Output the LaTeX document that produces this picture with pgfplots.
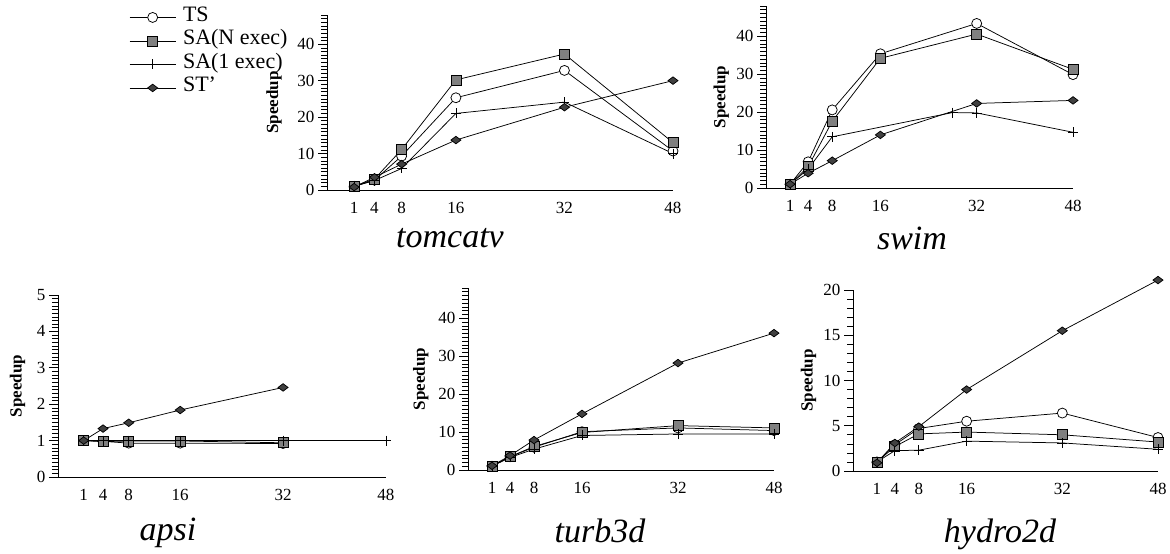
\documentclass[border=0pt]{standalone}
\usepackage{pgfplots}
\pgfplotsset{compat=1.18}
\usepackage{fontspec}
\setmainfont{Liberation Serif}
\begin{document}
\begin{tikzpicture}
\path[use as bounding box] (0pt,0pt) rectangle (1170pt,554pt);
\pgfplotsset{
  speed/.style={
    scale only axis, axis lines*=left, clip=false,
    xmin=-3, xmax=48, ymin=0,
    xtick={1,4,8,16,32,48}, xtick style={draw=none},
    tick align=outside, major tick length=9pt, minor tick length=6pt,
    every tick/.style={black, line width=0.6pt},
    axis line style={line width=0.8pt},
    tick label style={font=\fontsize{17}{17}\selectfont},
    /pgf/number format/assume math mode=true,
    ylabel={Speedup},
    ylabel style={font=\bfseries\fontsize{17}{17}\selectfont, rotate=0, anchor=center},
  },
  myleg/.style={legend image code/.code={\draw[mark repeat=2,mark phase=2,##1] plot coordinates {(0pt,0pt) (23pt,0pt) (46pt,0pt)};}},
  big/.style={ymax=48, ytick={0,10,...,40}, minor ytick={0,1,...,48}},
  ts/.style={myleg, black, line width=0.75pt, mark=*, mark size=5pt, mark options={solid, fill=white}},
  san/.style={myleg, black, line width=0.75pt, mark=square*, mark size=5pt, mark options={solid, fill=gray}},
  sa1/.style={myleg, black, line width=0.75pt, mark=+, mark size=5pt, mark options={solid}},
  st/.style={myleg, black, line width=0.75pt, mark=diamond*, mark size=5pt, mark options={solid, fill=darkgray, rotate=90}},
}

% tomcatv
\begin{axis}[speed, big, at={(327pt,364pt)}, anchor=south west, width=346pt, height=175pt,
  ylabel style={at={(axis description cs:-0.153,0.5)}},
  legend style={at={(axis description cs:-0.572,1.05)}, anchor=north west, draw=none, fill=none,
    font=\fontsize{22}{24}\selectfont, row sep=1.5pt, inner sep=0pt,
    nodes={inner sep=0pt, text height=15pt, text depth=7pt},
    /tikz/every odd column/.append style={column sep=7pt}},
  legend cell align=left]
\addplot[ts] coordinates {(1,1)(4,2.7)(8,9.3)(16,25.3)(32,32.8)(48,10.7)};
\addplot[san] coordinates {(1,1)(4,3)(8,11.1)(16,30.2)(32,37.3)(48,13)};
\addplot[sa1] coordinates {(1,1)(4,2.6)(8,5.9)(16,21)(32,24.1)(48,10)};
\addplot[st] coordinates {(1,0.8)(4,3.5)(8,7.1)(16,13.7)(32,22.7)(48,30)};
\legend{TS, SA(N exec), SA(1 exec), ST'}
\end{axis}

% swim
\begin{axis}[speed, big, at={(766pt,366pt)}, anchor=south west, width=307pt, height=182pt,
  ylabel style={at={(axis description cs:-0.146,0.5)}}]
\addplot[ts] coordinates {(1,1)(4,6.9)(8,20.6)(16,35.4)(32,43.4)(48,29.9)};
\addplot[san] coordinates {(1,1)(4,5.6)(8,17.6)(16,34.2)(32,40.6)(48,31.3)};
\addplot[sa1] coordinates {(1,1)(4,5)(8,13.5)(28,19.9)(32,19.8)(48,14.7)};
\addplot[st] coordinates {(1,1)(4,3.9)(8,7.2)(16,14)(32,22.3)(48,23.1)};
\end{axis}

% apsi
\begin{axis}[speed, at={(58pt,77pt)}, anchor=south west, width=328pt, height=182pt,
  ymax=5, ytick={0,1,...,5}, minor ytick={0,0.1,...,5.01},
  ylabel style={at={(axis description cs:-0.123,0.5)}}]
\addplot[ts] coordinates {(1,1)(4,0.98)(8,0.93)(16,0.93)(32,0.92)};
\addplot[san] coordinates {(1,1)(4,0.97)(8,0.99)(16,0.99)(32,0.94)};
\addplot[sa1] coordinates {(1,1)(4,1)(8,1)(16,1)(32,1)(48,1)};
\addplot[st] coordinates {(1,1)(4,1.33)(8,1.49)(16,1.84)(32,2.46)};
\end{axis}

% turb3d
\begin{axis}[speed, big, at={(468pt,84pt)}, anchor=south west, width=306pt, height=182pt,
  ylabel style={at={(axis description cs:-0.154,0.5)}}]
\addplot[ts] coordinates {(1,1)(4,3.5)(8,6)(16,10.1)(32,11.1)(48,10.4)};
\addplot[san] coordinates {(1,1)(4,3.5)(8,6.2)(16,9.9)(32,11.7)(48,11.1)};
\addplot[sa1] coordinates {(1,1)(4,3.3)(8,5.5)(16,9.1)(32,9.5)(48,9.5)};
\addplot[st] coordinates {(1,1.1)(4,3.8)(8,7.9)(16,14.8)(32,28.2)(48,36.1)};
\end{axis}

% hydro2d
\begin{axis}[speed, at={(853pt,83pt)}, anchor=south west, width=305pt, height=181pt,
  ymax=20, ytick={0,5,...,20}, minor ytick={0,1,...,20},
  ylabel style={at={(axis description cs:-0.146,0.5)}}]
\addplot[ts] coordinates {(1,1)(4,2.9)(8,4.7)(16,5.5)(32,6.4)(48,3.7)};
\addplot[san] coordinates {(1,1)(4,2.7)(8,4.1)(16,4.3)(32,4.0)(48,3.2)};
\addplot[sa1] coordinates {(1,1)(4,2.25)(8,2.3)(16,3.3)(32,3.1)(48,2.4)};
\addplot[st] coordinates {(1,0.9)(4,3.1)(8,4.9)(16,9)(32,15.5)(48,21.1)};
\end{axis}

\begin{scope}[every node/.style={anchor=base, font=\itshape\fontsize{34}{34}\selectfont}]
\node at (450pt,306pt) {tomcatv};
\node at (912pt,304pt) {swim};
\node at (168pt,13pt) {apsi};
\node at (600pt,11pt) {turb3d};
\node at (1000pt,11pt) {hydro2d};
\end{scope}
\end{tikzpicture}
\end{document}
